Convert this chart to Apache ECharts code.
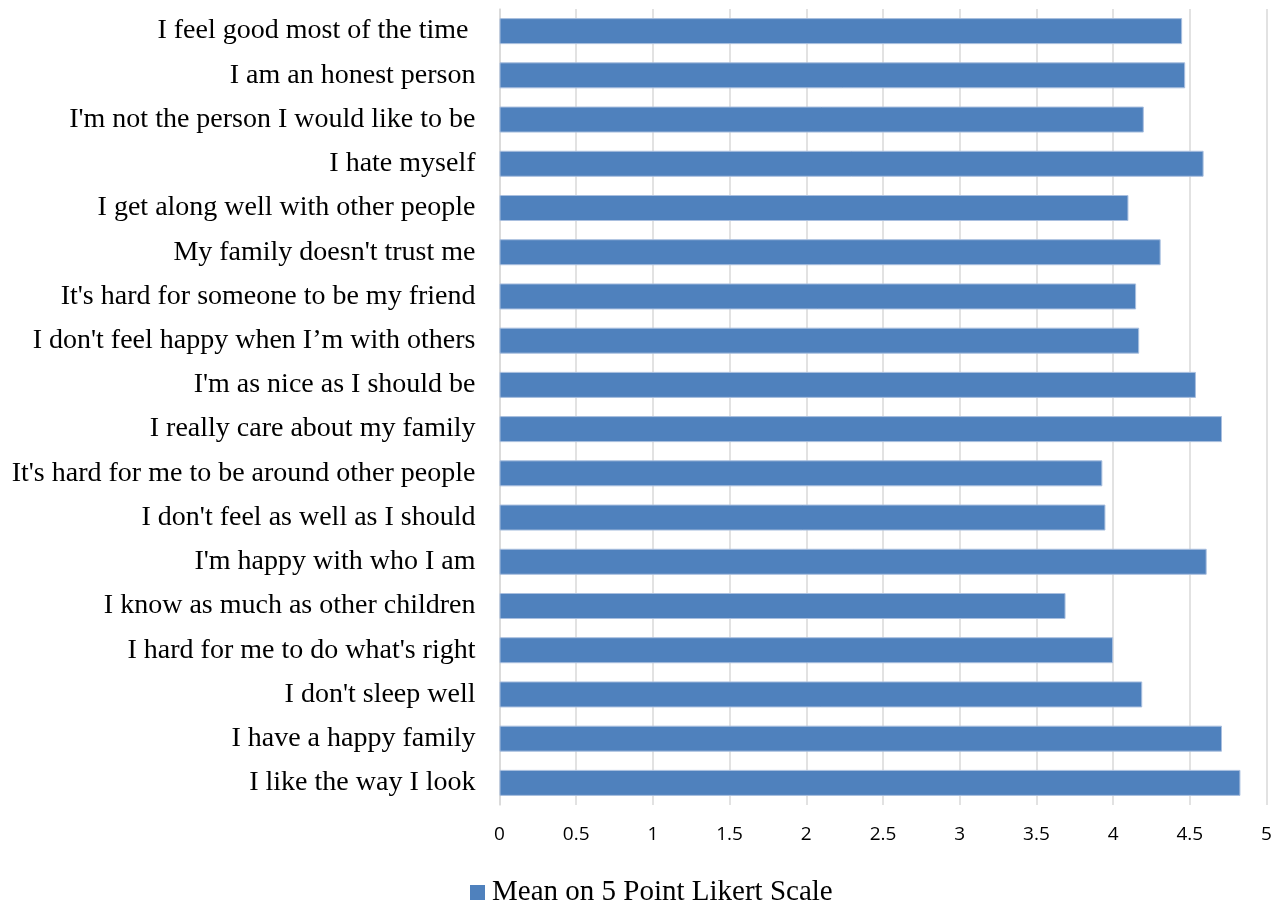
<!DOCTYPE html>
<html>
<head>
<meta charset="utf-8">
<script src="https://cdn.jsdelivr.net/npm/echarts@6/dist/echarts.min.js"></script>
<style>
  html, body { margin: 0; padding: 0; background: #fff; }
  #chart { width: 1282px; height: 904px; }
</style>
</head>
<body>
<div id="chart"></div>
<script>
// Survey statements, listed top to bottom
const statements = [
  "I feel good most of the time ",
  "I am an honest person",
  "I'm not the person I would like to be",
  "I hate myself",
  "I get along well with other people",
  "My family doesn't trust me",
  "It's hard for someone to be my friend",
  "I don't feel happy when I\u2019m with others",
  "I'm as nice as I should be",
  "I really care about my family",
  "It's hard for me to be around other people",
  "I don't feel as well as I should",
  "I'm happy with who I am",
  "I know as much as other children",
  "I hard for me to do what's right",
  "I don't sleep well",
  "I have a happy family",
  "I like the way I look"
];

// Mean response per statement
const meanScores = [
  4.45, 4.47, 4.20, 4.59, 4.10, 4.31, 4.15, 4.17, 4.54,
  4.71, 3.93, 3.95, 4.61, 3.69, 4.00, 4.19, 4.71, 4.83
];

const seriesName = "Mean on 5 Point Likert Scale";

const chart = echarts.init(document.getElementById('chart'), null, { renderer: 'canvas' });

chart.setOption({
  animation: false,
  backgroundColor: '#ffffff',
  grid: { left: 499.5, right: 15.5, top: 9, bottom: 99, containLabel: false },
  legend: {
    data: [seriesName],
    top: 873,
    left: 465,
    icon: 'rect',
    itemWidth: 15,
    itemHeight: 15,
    itemGap: 10,
    itemStyle: { borderWidth: 0 },
    textStyle: { fontFamily: 'Liberation Serif', fontSize: 29, color: '#000', padding: [0, 0, 0, 2] }
  },
  xAxis: {
    type: 'value',
    min: 0,
    max: 5,
    interval: 0.5,
    axisLine: { show: false },
    axisTick: { show: false },
    splitLine: { show: true, lineStyle: { color: '#d9d9d9', width: 1.5 } },
    axisLabel: {
      margin: 20,
      fontFamily: 'Open Sans',
      fontSize: 19,
      color: '#000'
    }
  },
  yAxis: {
    type: 'category',
    data: statements,
    inverse: true,
    axisLine: { show: true, lineStyle: { color: '#d9d9d9', width: 1.5 } },
    axisTick: { show: false },
    axisLabel: {
      margin: 24,
      fontFamily: 'Liberation Serif',
      fontSize: 28,
      color: '#000'
    }
  },
  series: [{
    name: seriesName,
    type: 'bar',
    data: meanScores,
    barWidth: 26,
    itemStyle: { color: '#4f81bd', borderColor: '#a9bfdf', borderWidth: 1 }
  }]
});
</script>
</body>
</html>
